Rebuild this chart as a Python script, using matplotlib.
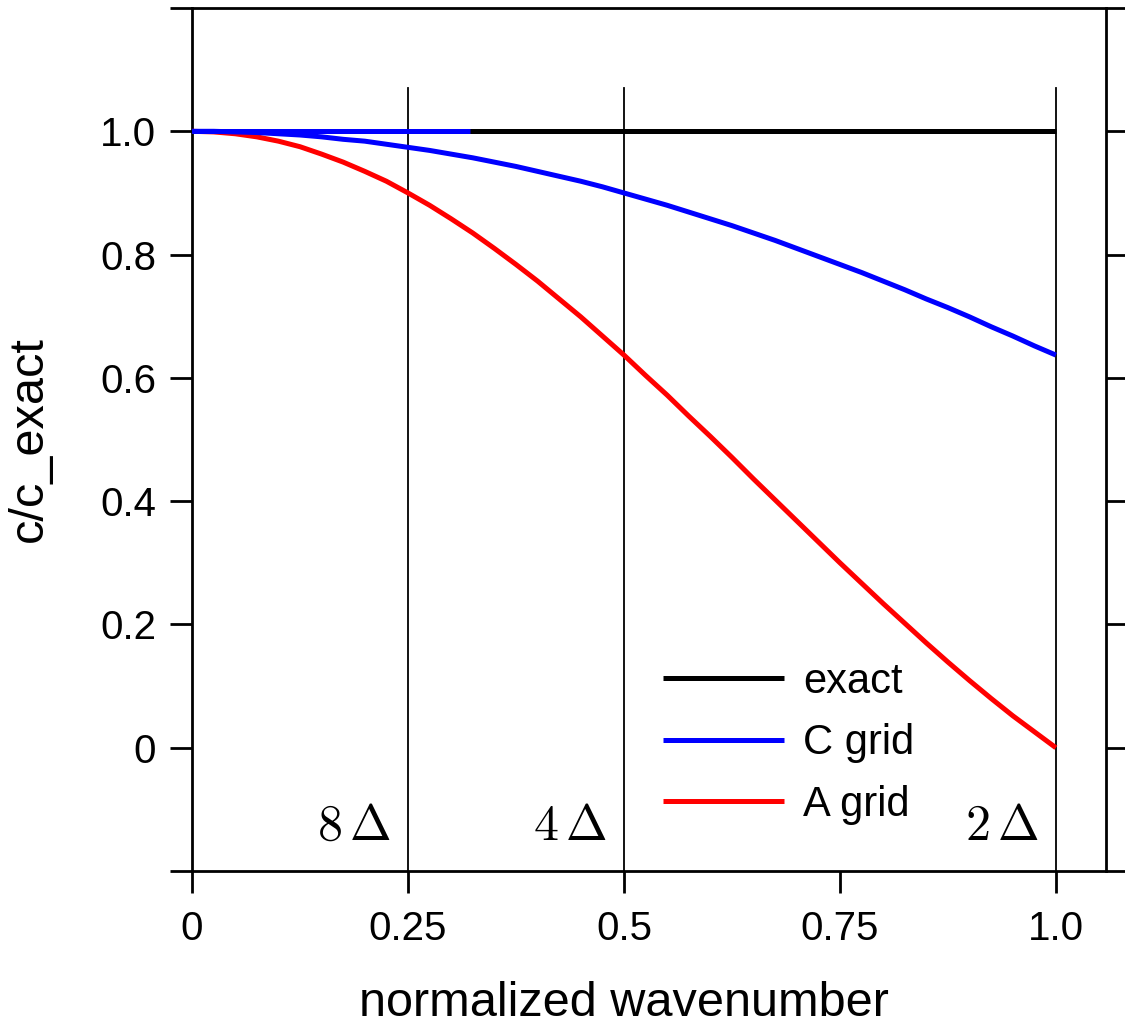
"""
位相速度比のプロット
C格子・A格子の離散化による c/c_exact を規格化波数に対して描く
"""
import matplotlib
matplotlib.use('Agg')
import matplotlib.pyplot as plt
from matplotlib import rcParams

rcParams['font.family'] = ['Liberation Sans', 'DejaVu Sans']
rcParams['mathtext.fontset'] = 'cm'

# 規格化波数 (0.025刻み)
wavenumber = [0.000, 0.025, 0.050, 0.075, 0.100, 0.125, 0.150, 0.175, 0.200, 0.225,
              0.250, 0.275, 0.300, 0.325, 0.350, 0.375, 0.400, 0.425, 0.450, 0.475,
              0.500, 0.525, 0.550, 0.575, 0.600, 0.625, 0.650, 0.675, 0.700, 0.725,
              0.750, 0.775, 0.800, 0.825, 0.850, 0.875, 0.900, 0.925, 0.950, 0.975,
              1.000]

# c/c_exact
exact = [1.0] * len(wavenumber)
c_grid = [1.000, 1.000, 0.999, 0.998, 0.996, 0.994, 0.991, 0.987, 0.984, 0.979,
          0.974, 0.969, 0.963, 0.957, 0.950, 0.943, 0.935, 0.927, 0.919, 0.910,
          0.900, 0.890, 0.880, 0.869, 0.858, 0.847, 0.835, 0.823, 0.810, 0.797,
          0.784, 0.771, 0.757, 0.743, 0.728, 0.714, 0.699, 0.683, 0.668, 0.652,
          0.637]
a_grid = [1.000, 0.999, 0.996, 0.991, 0.984, 0.975, 0.963, 0.950, 0.935, 0.919,
          0.900, 0.880, 0.858, 0.835, 0.810, 0.784, 0.757, 0.728, 0.699, 0.668,
          0.637, 0.604, 0.572, 0.538, 0.505, 0.471, 0.436, 0.402, 0.368, 0.334,
          0.300, 0.267, 0.234, 0.202, 0.170, 0.139, 0.109, 0.080, 0.052, 0.026,
          0.000]

# C格子の線の重なり部分
c_flat_x = [0.0, 0.322]
c_flat_y = [1.0, 1.0]

# 波長の目安線
ref_wavenumber = [0.25, 0.5, 1.0]
ref_labels = [r'$8\,\Delta$', r'$4\,\Delta$', r'$2\,\Delta$']

x_ticks = [0, 0.25, 0.5, 0.75, 1.0]
x_ticklabels = ['0', '0.25', '0.5', '0.75', '1.0']
y_ticks = [-0.2, 0.0, 0.2, 0.4, 0.6, 0.8, 1.0, 1.2]
y_ticklabels = ['', '0', '0.2', '0.4', '0.6', '0.8', '1.0', '']


def plot_phase_speed():
    fig = plt.figure(figsize=(11.25, 10.28), dpi=100)
    ax = fig.add_axes([0.1707, 0.1527, 0.8124, 0.8395])

    for xv in ref_wavenumber:
        ax.plot([xv, xv], [-0.2, 1.07], color='black', linewidth=1.3, zorder=1)
    for xv, lab in zip(ref_wavenumber, ref_labels):
        ax.text(xv - 0.02, -0.149, lab, fontsize=36, ha='right', va='baseline')

    lw = 3.6
    l_exact, = ax.plot(wavenumber, exact, color='black', linewidth=lw,
                       solid_capstyle='butt', label='exact', zorder=3)
    l_a, = ax.plot(wavenumber, a_grid, color='red', linewidth=lw,
                   solid_capstyle='butt', label='A grid', zorder=4)
    l_c, = ax.plot(wavenumber, c_grid, color='blue', linewidth=lw,
                   solid_capstyle='butt', label='C grid', zorder=5)
    ax.plot(c_flat_x, c_flat_y, color='blue', linewidth=lw,
            solid_capstyle='butt', zorder=5)

    ax.set_xlim(0, 1.058)
    ax.set_ylim(-0.2, 1.2)
    ax.set_xticks(x_ticks)
    ax.set_xticklabels(x_ticklabels)
    ax.set_yticks(y_ticks)
    ax.set_yticklabels(y_ticklabels)
    ax.tick_params(axis='both', direction='out', length=16, width=2,
                   labelsize=29)
    ax.tick_params(axis='x', pad=12)
    ax.tick_params(axis='y', right=True, pad=10)
    for sp in ax.spines.values():
        sp.set_linewidth(2)

    ax.set_xlabel('normalized wavenumber', fontsize=35)
    ax.xaxis.set_label_coords(0.5 / 1.058, -0.128)
    ax.set_ylabel('c/c_exact', fontsize=35)
    ax.yaxis.set_label_coords(-0.153, 0.5)

    ax.legend(handles=[l_exact, l_c, l_a], loc='upper left',
              bbox_to_anchor=(0.5153, 0.2427), frameon=False, fontsize=30,
              handlelength=2.9, handletextpad=0.46, labelspacing=0.52,
              borderpad=0, borderaxespad=0)

    fig.savefig('out.png', dpi=100)
    plt.close(fig)


if __name__ == "__main__":
    plot_phase_speed()
